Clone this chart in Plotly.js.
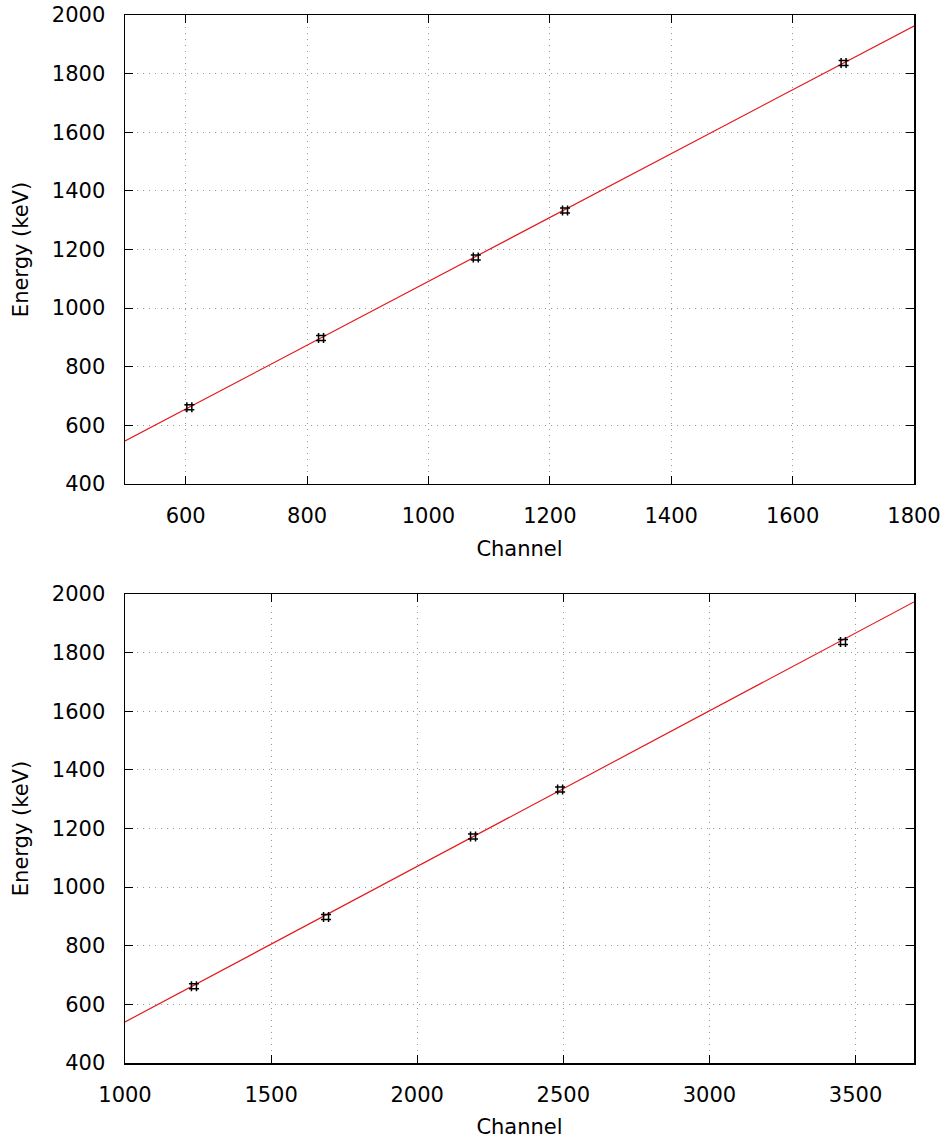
<!DOCTYPE html>
<html><head><meta charset="utf-8">
<script src="https://cdn.plot.ly/plotly-3.0.1.min.js"></script>
<style>html,body{margin:0;padding:0;background:#fff}#chart{width:949px;height:1139px}</style>
</head><body><div id="chart"></div>
<script>
// Calibration 1
const channels1 = [606, 823, 1078, 1225, 1684];
const energies1 = [662, 898, 1173, 1333, 1836];
const fitX1 = [500, 1800];
const fitY1 = [546.7, 1962.5];
// Calibration 2
const channels2 = [1236, 1688, 2191, 2489, 3457];
const energies2 = [662, 898, 1173, 1333, 1836];
const fitX2 = [1000, 3700];
const fitY2 = [540, 1973];

const pts = (x, y, xa, ya) => ({x, y, xaxis: xa, yaxis: ya, type: 'scatter', mode: 'markers',
  marker: {symbol: 'hash-open', size: 10, color: '#000', line: {color: '#000', width: 1.5}},
  showlegend: false, hoverinfo: 'skip'});
const fit = (x, y, xa, ya) => ({x, y, xaxis: xa, yaxis: ya, type: 'scatter', mode: 'lines',
  line: {color: '#e41a1c', width: 1.2}, showlegend: false, hoverinfo: 'skip'});

const font = {family: 'DejaVu Sans', size: 21, color: '#000'};
const axBase = {showline: true, mirror: 'ticks', linecolor: '#000', linewidth: 1.5,
  ticks: 'inside', ticklen: 8, tickcolor: '#000', tickwidth: 1,
  showgrid: true, gridcolor: '#999', griddash: '1px,5px', gridwidth: 1,
  zeroline: false, tickfont: font, automargin: false};
const xBase = Object.assign({}, axBase, {ticklabelstandoff: 12});
const yBase = Object.assign({}, axBase, {ticklabelstandoff: 14});

const layout = {
  width: 949, height: 1139, paper_bgcolor: '#fff', plot_bgcolor: '#fff',
  margin: {l: 125, r: 35, t: 15, b: 76},
  font: font,
  xaxis: Object.assign({}, xBase, {range: [500, 1800], dtick: 200, domain: [0, 1], anchor: 'y',
    title: {text: 'Channel', font: font, standoff: 14}}),
  yaxis: Object.assign({}, yBase, {range: [400, 2000], dtick: 200, domain: [0.5525, 1], anchor: 'x',
    title: {text: 'Energy (keV)', font: font, standoff: 17}}),
  xaxis2: Object.assign({}, xBase, {range: [1000, 3700], dtick: 500, domain: [0, 1], anchor: 'y2',
    title: {text: 'Channel', font: font, standoff: 14}}),
  yaxis2: Object.assign({}, yBase, {range: [400, 2000], dtick: 200, domain: [0, 0.4475], anchor: 'x2',
    title: {text: 'Energy (keV)', font: font, standoff: 17}})
};

Plotly.newPlot('chart', [
  fit(fitX1, fitY1, 'x', 'y'), pts(channels1, energies1, 'x', 'y'),
  fit(fitX2, fitY2, 'x2', 'y2'), pts(channels2, energies2, 'x2', 'y2')
], layout, {staticPlot: true, displayModeBar: false});
</script></body></html>
